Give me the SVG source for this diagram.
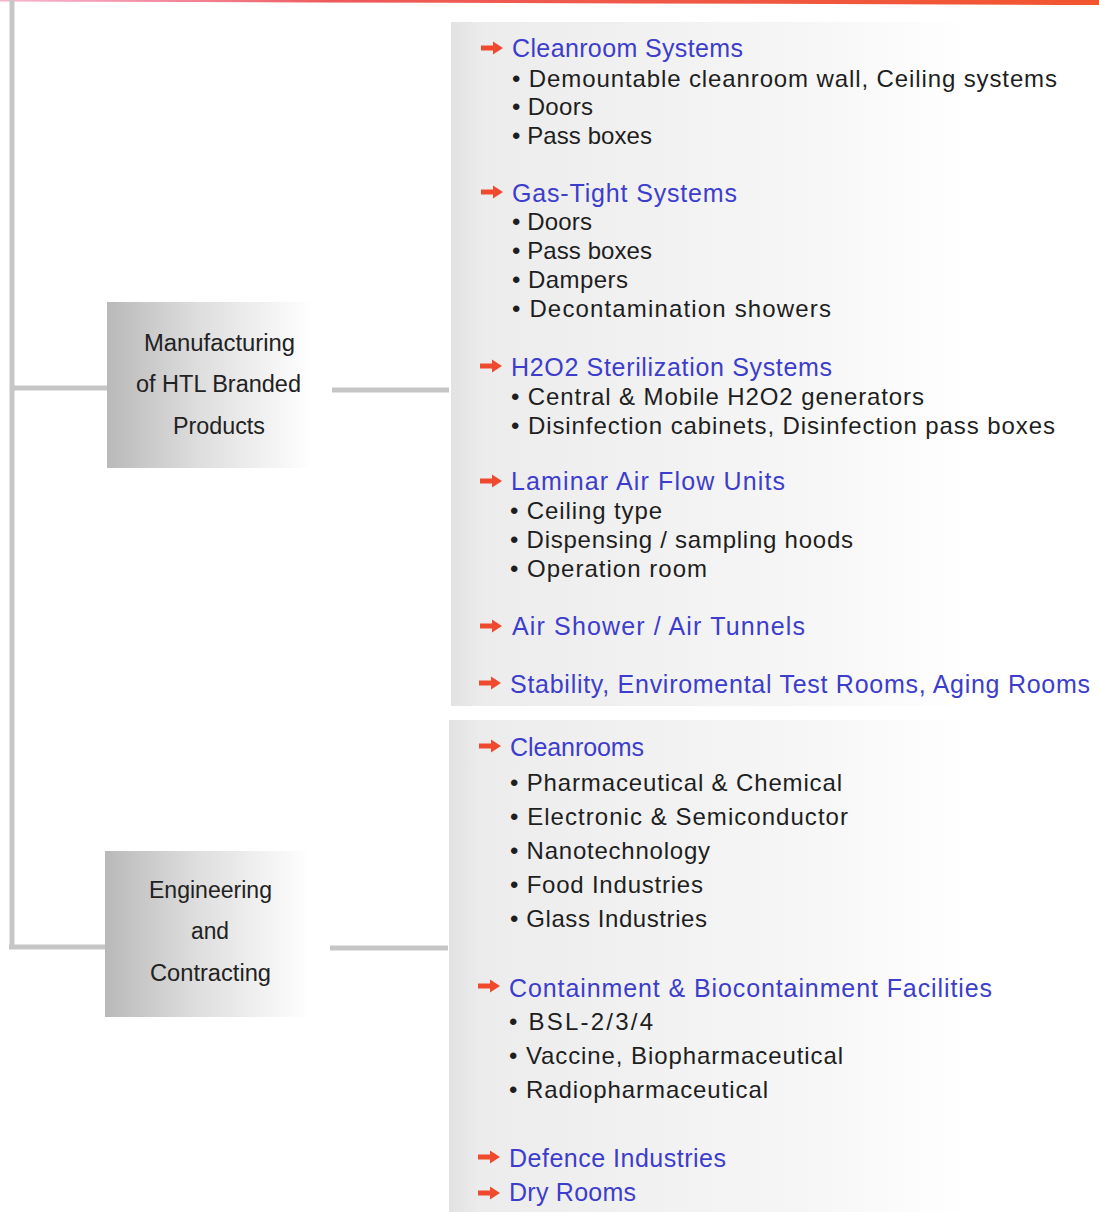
<svg xmlns="http://www.w3.org/2000/svg" width="1099" height="1212" viewBox="0 0 1099 1212">
<defs>
<linearGradient id="topline" x1="0" y1="0" x2="1" y2="0">
<stop offset="0" stop-color="#f06aa0" stop-opacity="0.5"/>
<stop offset="0.3" stop-color="#ee5a5a"/>
<stop offset="1" stop-color="#f2552e"/>
</linearGradient>
<linearGradient id="nodeg" x1="0" y1="0" x2="1" y2="0">
<stop offset="0" stop-color="#b9b9b9"/>
<stop offset="0.45" stop-color="#dedede"/>
<stop offset="1" stop-color="#ffffff"/>
</linearGradient>
<linearGradient id="panelg" x1="0" y1="0" x2="1" y2="0">
<stop offset="0" stop-color="#e2e2e2"/>
<stop offset="0.05" stop-color="#ececec"/>
<stop offset="0.55" stop-color="#f6f6f6"/>
<stop offset="0.8" stop-color="#ffffff"/>
</linearGradient>
<symbol id="arr" viewBox="0 0 22 14">
<path d="M0 4.5 H12 V0.5 L22 7 L12 13.5 V9.5 H0 Z" fill="#f04a2e"/>
</symbol>
</defs>
<style>
.n{font-family:"Liberation Sans",Arial,sans-serif;font-size:23.5px;fill:#222}
.h{font-family:"Liberation Sans",Arial,sans-serif;font-size:25px;fill:#3d3dcc}
.b{font-family:"Liberation Sans",Arial,sans-serif;font-size:24px;fill:#1e1e1e}
.c{stroke:#c6c6c6;stroke-width:5;fill:none}
</style>
<rect x="0" y="0" width="1099" height="1212" fill="#ffffff"/>
<path d="M0 0 H1099 V5 Q600 3 0 1.5 Z" fill="url(#topline)"/>

<rect x="451" y="22" width="648" height="684" fill="url(#panelg)"/>
<rect x="449" y="720" width="650" height="492" fill="url(#panelg)"/>

<g id="connectors">
<path class="c" d="M12 0 V947"/>
<path class="c" d="M12 388 H107"/>
<path class="c" d="M332 390 H449"/>
<path class="c" d="M9 947 H105"/>
<path class="c" d="M330 948 H448"/>
</g>

<g id="node-manufacturing">
<rect x="107" y="302" width="205" height="166" fill="url(#nodeg)"/>
<text class="n" x="144" y="351" textLength="151" lengthAdjust="spacingAndGlyphs">Manufacturing</text>
<text class="n" x="136" y="392" textLength="165" lengthAdjust="spacingAndGlyphs">of HTL Branded</text>
<text class="n" x="173" y="434" textLength="92" lengthAdjust="spacingAndGlyphs">Products</text>
</g>

<g id="node-engineering">
<rect x="105" y="851" width="205" height="166" fill="url(#nodeg)"/>
<text class="n" x="149" y="898" textLength="123" lengthAdjust="spacingAndGlyphs">Engineering</text>
<text class="n" x="191" y="939" textLength="38" lengthAdjust="spacingAndGlyphs">and</text>
<text class="n" x="150" y="981" textLength="121" lengthAdjust="spacingAndGlyphs">Contracting</text>
</g>

<g id="list-manufacturing">
<use href="#arr" x="481" y="41" width="22" height="14"/>
<text class="h" x="512" y="57" textLength="231">Cleanroom Systems</text>
<text class="b" x="512" y="87" textLength="545">• Demountable cleanroom wall, Ceiling systems</text>
<text class="b" x="512" y="115" textLength="81">• Doors</text>
<text class="b" x="512" y="144" textLength="140">• Pass boxes</text>

<use href="#arr" x="481" y="185" width="22" height="14"/>
<text class="h" x="512" y="202" textLength="225">Gas-Tight Systems</text>
<text class="b" x="512" y="230" textLength="80">• Doors</text>
<text class="b" x="512" y="259" textLength="140">• Pass boxes</text>
<text class="b" x="512" y="288" textLength="116">• Dampers</text>
<text class="b" x="512" y="317" textLength="319">• Decontamination showers</text>

<use href="#arr" x="480" y="359" width="22" height="14"/>
<text class="h" x="511" y="376" textLength="321">H2O2 Sterilization Systems</text>
<text class="b" x="511" y="405" textLength="413">• Central &amp; Mobile H2O2 generators</text>
<text class="b" x="511" y="434" textLength="544">• Disinfection cabinets, Disinfection pass boxes</text>

<use href="#arr" x="480" y="474" width="22" height="14"/>
<text class="h" x="511" y="490" textLength="274">Laminar Air Flow Units</text>
<text class="b" x="510" y="519" textLength="152">• Ceiling type</text>
<text class="b" x="510" y="548" textLength="343">• Dispensing / sampling hoods</text>
<text class="b" x="510" y="577" textLength="197">• Operation room</text>

<use href="#arr" x="480" y="619" width="22" height="14"/>
<text class="h" x="512" y="635" textLength="293">Air Shower / Air Tunnels</text>

<use href="#arr" x="479" y="676" width="22" height="14"/>
<text class="h" x="510" y="693" textLength="580">Stability, Enviromental Test Rooms, Aging Rooms</text>
</g>

<g id="list-engineering">
<use href="#arr" x="479" y="739" width="22" height="14"/>
<text class="h" x="510" y="756" textLength="134">Cleanrooms</text>
<text class="b" x="510" y="791" textLength="332">• Pharmaceutical &amp; Chemical</text>
<text class="b" x="510" y="825" textLength="338">• Electronic &amp; Semiconductor</text>
<text class="b" x="510" y="859" textLength="200">• Nanotechnology</text>
<text class="b" x="510" y="893" textLength="193">• Food Industries</text>
<text class="b" x="510" y="927" textLength="197">• Glass Industries</text>

<use href="#arr" x="478" y="979" width="22" height="14"/>
<text class="h" x="509" y="997" textLength="483">Containment &amp; Biocontainment Facilities</text>
<text class="b" x="509" y="1030" textLength="144">• BSL-2/3/4</text>
<text class="b" x="509" y="1064" textLength="334">• Vaccine, Biopharmaceutical</text>
<text class="b" x="509" y="1098" textLength="259">• Radiopharmaceutical</text>

<use href="#arr" x="478" y="1150" width="22" height="14"/>
<text class="h" x="509" y="1167" textLength="217">Defence Industries</text>
<use href="#arr" x="478" y="1186" width="22" height="14"/>
<text class="h" x="509" y="1201" textLength="127">Dry Rooms</text>
</g>
</svg>
